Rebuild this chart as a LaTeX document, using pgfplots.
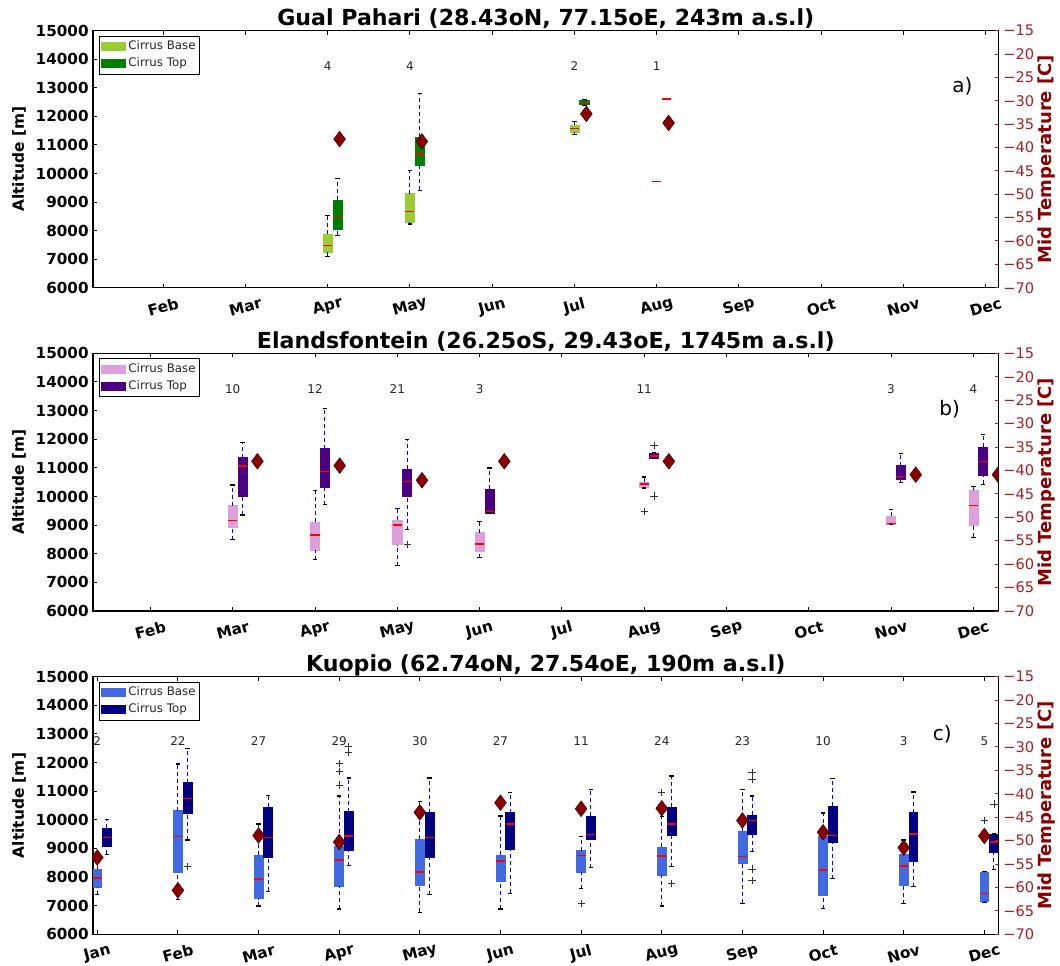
\documentclass[border=0pt]{standalone}
\usepackage{fontspec}
\setmainfont{DejaVu Sans}
\usepackage{pgfplots}
\pgfplotsset{compat=1.18}
\definecolor{yellowgreen}{RGB}{154,205,50}
\definecolor{mgreen}{RGB}{0,128,0}
\definecolor{plum}{RGB}{221,160,221}
\definecolor{indigo}{RGB}{75,0,130}
\definecolor{royalblue}{RGB}{65,105,225}
\definecolor{navy}{RGB}{0,0,128}
\definecolor{dkred}{RGB}{139,0,0}
\definecolor{tkred}{RGB}{170,30,30}
\definecolor{medred}{RGB}{255,0,0}
\tikzset{wsk/.style={blue, dash pattern=on 2pt off 1.5pt, line width=0.5pt},
         wcap/.style={black, solid, line width=0.6pt},
         cnt/.style={font=\fontsize{6}{7}\selectfont, text=black!85, inner sep=0pt}}
\pgfplotsset{
  outl/.style={only marks, mark=+, mark size=1.8pt, mark options={solid, black!80, line width=0.4pt}},
  legimg/.style={legend image code/.code={\fill[#1] (0pt,-2pt) rectangle (12pt,2pt);}},
  every axis title/.style={font=\bfseries\fontsize{11.05}{13}\selectfont, at={(axis description cs:0.5,1)}, anchor=base, yshift=2.4pt},
  main/.style={
    anchor=south west, width=452.75pt, scale only axis,
    ymin=6000, ymax=15000, ytick={6000,7000,8000,9000,10000,11000,12000,13000,14000,15000},
    xtick={1,2,3,4,5,6,7,8,9,10,11,12}, xticklabels={Jan,Feb,Mar,Apr,May,Jun,Jul,Aug,Sep,Oct,Nov,Dec},
    ytick pos=left, tick align=inside, major tick length=2pt,
    tick style={black, line width=0.5pt},
    axis line style={line width=0.6pt},
    /pgf/number format/assume math mode=true, /pgf/number format/1000 sep={},
    scaled y ticks=false,
    yticklabel style={font=\bfseries\fontsize{7.6}{9}\selectfont, anchor=east, inner sep=0pt, xshift=-2pt},
    xticklabel style={font=\bfseries\fontsize{7.6}{9}\selectfont, yshift=-9.6pt, rotate=15, anchor=center, inner sep=0pt},
    ylabel={Altitude [m]},
    ylabel style={font=\bfseries\fontsize{7.7}{9}\selectfont, at={(axis description cs:-0.0817,0.5)}, anchor=center},
    legend style={at={(axis description cs:0.0066,0.9805)}, anchor=north west, draw=black, line width=0.5pt,
      font=\fontsize{5.9}{7}\selectfont, text=black!85, inner xsep=1pt, inner ysep=1.3pt,
      row sep=0.5pt, nodes={inner sep=1pt}},
    legend cell align=left,
  },
  temp/.style={
    anchor=south west, width=452.75pt, scale only axis,
    ymin=-70, ymax=-15, hide x axis, axis y line*=right,
    ytick={-70,-65,-60,-55,-50,-45,-40,-35,-30,-25,-20,-15},
    yticklabels={−70,−65,−60,−55,−50,−45,−40,−35,−30,−25,−20,−15},
    tick align=inside, major tick length=2pt,
    y tick style={tkred, line width=0.5pt},
    axis line style={line width=0.6pt, black},
    yticklabel style={font=\fontsize{7.3}{9}\selectfont, text=tkred, anchor=west, inner sep=0pt, xshift=2.2pt},
    ylabel={Mid Temperature [C]},
    ylabel style={font=\bfseries\fontsize{9}{11}\selectfont, text=dkred, at={(axis description cs:1.0525,0.5)}, anchor=center},
    clip marker paths=true,
  },
  dia/.style={only marks, mark=diamond*, mark size=3.9pt, mark options={fill=dkred, draw=black!50!dkred, line width=0.3pt}},
  medl/.style={draw=medred, line width=0.7pt, mark=none},
}
% box: position, colour, lower whisker, Q1, median, Q3, upper whisker
\newcommand\bx[7]{%
  \pgfmathsetmacro\xa{#1-0.055}\pgfmathsetmacro\xb{#1+0.055}%
  \pgfmathsetmacro\ca{#1-0.0275}\pgfmathsetmacro\cb{#1+0.0275}%
  \edef\tmp{\noexpand\addplot[fill=#2, draw=#2, line width=0.3pt] coordinates {(\xa,#4) (\xb,#4) (\xb,#6) (\xa,#6)} -- cycle;}\tmp
  \edef\tmp{\noexpand\addplot[wsk] coordinates {(#1,#3) (#1,#4)};}\tmp
  \edef\tmp{\noexpand\addplot[wsk] coordinates {(#1,#6) (#1,#7)};}\tmp
  \edef\tmp{\noexpand\addplot[wcap] coordinates {(\ca,#3) (\cb,#3)};}\tmp
  \edef\tmp{\noexpand\addplot[wcap] coordinates {(\ca,#7) (\cb,#7)};}\tmp
  \edef\tmp{\noexpand\addplot[medl] coordinates {(\xa,#5) (\xb,#5)};}\tmp
}
\begin{document}
\begin{tikzpicture}
\path[use as bounding box] (0pt,0pt) rectangle (530pt,482.5pt);
% ---------------- Panel a ----------------
\begin{axis}[main, at={(46.5pt,338.65pt)}, height=128.5pt, xmin=1.147, xmax=12.156,
  title={Gual Pahari (28.43oN, 77.15oE, 243m a.s.l)}]
\addlegendimage{legimg=yellowgreen}\addlegendentry{Cirrus Base}
\addlegendimage{legimg=mgreen}\addlegendentry{Cirrus Top}
\bx{4}{yellowgreen}{7097}{7251}{7483}{7881}{8521}
\bx{4.12}{mgreen}{7832}{8031}{8451}{9057}{9829}
\bx{5}{yellowgreen}{8229}{8300}{8662}{9292}{10109}
\bx{5.12}{mgreen}{9407}{10283}{10682}{11278}{12794}
\bx{7}{yellowgreen}{11358}{11453}{11579}{11697}{11824}
\bx{7.12}{mgreen}{12374}{12433}{12490}{12548}{12584}
\addplot[medl] coordinates {(7.945,9712) (8.055,9712)};
\addplot[medl] coordinates {(8.065,12608) (8.175,12608)};
\node[cnt] at (axis cs:4,13750) {4};
\node[cnt] at (axis cs:5,13750) {4};
\node[cnt] at (axis cs:7,13750) {2};
\node[cnt] at (axis cs:8,13750) {1};
\node[font=\fontsize{10}{12}\selectfont] at (rel axis cs:0.96,0.782) {a)};
\end{axis}
\begin{axis}[temp, at={(46.5pt,338.65pt)}, height=128.5pt, xmin=1.147, xmax=12.156]
\addplot[dia] coordinates {(4.145,-38.2) (5.145,-38.7) (7.145,-32.8) (8.145,-34.75)};
\end{axis}
% ---------------- Panel b ----------------
\begin{axis}[main, at={(46.5pt,177pt)}, height=128.85pt, xmin=1.302, xmax=12.306,
  title={Elandsfontein (26.25oS, 29.43oE, 1745m a.s.l)}]
\addlegendimage{legimg=plum}\addlegendentry{Cirrus Base}
\addlegendimage{legimg=indigo}\addlegendentry{Cirrus Top}
\bx{3}{plum}{8486}{8907}{9152}{9677}{10401}
\bx{3.12}{indigo}{9350}{10003}{11067}{11358}{11883}
\bx{4}{plum}{7786}{8126}{8651}{9093}{10214}
\bx{4.12}{indigo}{9712}{10318}{10868}{11673}{13064}
\bx{5}{plum}{7587}{8322}{9001}{9163}{9572}
\bx{5.12}{indigo}{8837}{10003}{10518}{10962}{11977}
\addplot[outl] coordinates {(5.12,8335)};
\bx{6}{plum}{7867}{8089}{8335}{8732}{9117}
\bx{6.12}{indigo}{9421}{9421}{9467}{10262}{10997}
\bx{8}{plum}{10297}{10332}{10437}{10493}{10682}
\addplot[outl] coordinates {(8,9467)};
\bx{8.12}{indigo}{11335}{11335}{11417}{11522}{11522}
\addplot[outl] coordinates {(8.12,11778) (8.12,10017)};
\bx{11}{plum}{9036}{9036}{9047}{9303}{9537}
\bx{11.12}{indigo}{10493}{10588}{10693}{11078}{11498}
\bx{12}{plum}{8581}{8987}{9677}{10213}{10353}
\bx{12.12}{indigo}{10423}{10752}{11229}{11733}{12153}
\node[cnt] at (axis cs:3,13750) {10};
\node[cnt] at (axis cs:4,13750) {12};
\node[cnt] at (axis cs:5,13750) {21};
\node[cnt] at (axis cs:6,13750) {3};
\node[cnt] at (axis cs:8,13750) {11};
\node[cnt] at (axis cs:11,13750) {3};
\node[cnt] at (axis cs:12,13750) {4};
\node[font=\fontsize{10}{12}\selectfont] at (rel axis cs:0.946,0.782) {b)};
\end{axis}
\begin{axis}[temp, at={(46.5pt,177pt)}, height=128.85pt, xmin=1.302, xmax=12.306]
\addplot[dia] coordinates {(3.3,-38.05) (4.3,-38.97) (5.3,-42.1) (6.3,-38.05) (8.3,-38.05) (11.3,-40.9) (12.3,-40.9)};
\end{axis}
% ---------------- Panel c ----------------
\begin{axis}[main, at={(46.5pt,15.35pt)}, height=128.8pt, xmin=0.947, xmax=12.176,
  title={Kuopio (62.74oN, 27.54oE, 190m a.s.l)}]
\addlegendimage{legimg=royalblue}\addlegendentry{Cirrus Base}
\addlegendimage{legimg=navy}\addlegendentry{Cirrus Top}
\bx{1}{royalblue}{7390}{7658}{7972}{8266}{8700}
\bx{1.12}{navy}{8802}{9092}{9372}{9701}{10003}
\bx{2}{royalblue}{7215}{8161}{9421}{10318}{11953}
\bx{2.12}{navy}{9292}{10227}{10752}{11300}{12489}
\addplot[outl] coordinates {(2.12,8357)};
\bx{3}{royalblue}{6991}{7250}{7937}{8767}{9852}
\bx{3.12}{navy}{7506}{8708}{9372}{10448}{10857}
\bx{4}{royalblue}{6886}{7693}{8603}{9059}{10833}
\addplot[outl] coordinates {(4,11218) (4,11685) (4,11977)};
\bx{4.12}{navy}{8404}{8942}{9432}{10283}{11463}
\addplot[outl] coordinates {(4.12,12363) (4.12,12559)};
\bx{5}{royalblue}{6770}{7727}{8171}{9316}{10633}
\bx{5.12}{navy}{7390}{8708}{9372}{10250}{11463}
\bx{6}{royalblue}{6886}{7844}{8567}{8767}{10132}
\bx{6.12}{navy}{7436}{8966}{9852}{10250}{10949}
\bx{7}{royalblue}{7595}{8166}{8759}{8922}{9411}
\addplot[outl] coordinates {(7,7083)};
\bx{7.12}{navy}{8329}{9330}{9493}{10133}{11065}
\bx{8}{royalblue}{6991}{8077}{8742}{9036}{10108}
\addplot[outl] coordinates {(8,10962)};
\bx{8.12}{navy}{8357}{9442}{9852}{10437}{11533}
\addplot[outl] coordinates {(8.12,7776)};
\bx{9}{royalblue}{7083}{8469}{8713}{9610}{11065}
\bx{9.12}{navy}{8887}{9493}{9970}{10168}{10832}
\addplot[outl] coordinates {(9.12,11659) (9.12,11426) (9.12,8282) (9.12,7875)};
\bx{10}{royalblue}{6897}{7351}{8247}{9411}{10238}
\bx{10.12}{navy}{7944}{9214}{9458}{10483}{11449}
\bx{11}{royalblue}{7075}{7727}{8392}{8802}{9292}
\bx{11.12}{navy}{7657}{8557}{9502}{10250}{10973}
\bx{12}{royalblue}{7110}{7166}{7425}{8182}{8182}
\addplot[outl] coordinates {(12,9968)};
\bx{12.12}{navy}{8266}{8861}{9232}{9502}{9502}
\addplot[outl] coordinates {(12.12,10553)};
\node[cnt] at (axis cs:1,12750) {2};
\node[cnt] at (axis cs:2,12750) {22};
\node[cnt] at (axis cs:3,12750) {27};
\node[cnt] at (axis cs:4,12750) {29};
\node[cnt] at (axis cs:5,12750) {30};
\node[cnt] at (axis cs:6,12750) {27};
\node[cnt] at (axis cs:7,12750) {11};
\node[cnt] at (axis cs:8,12750) {24};
\node[cnt] at (axis cs:9,12750) {23};
\node[cnt] at (axis cs:10,12750) {10};
\node[cnt] at (axis cs:11,12750) {3};
\node[cnt] at (axis cs:12,12750) {5};
\node[font=\fontsize{10}{12}\selectfont] at (rel axis cs:0.938,0.776) {c)};
\end{axis}
\begin{axis}[temp, at={(46.5pt,15.35pt)}, height=128.8pt, xmin=0.947, xmax=12.176]
\addplot[dia] coordinates {(1,-53.6) (2,-60.6) (3,-48.9) (4,-50.3) (5,-43.96) (6,-41.9) (7,-43.2) (8,-43.1) (9,-45.7) (10,-48.2) (11,-51.5) (12,-49.0)};
\end{axis}
\end{tikzpicture}
\end{document}
